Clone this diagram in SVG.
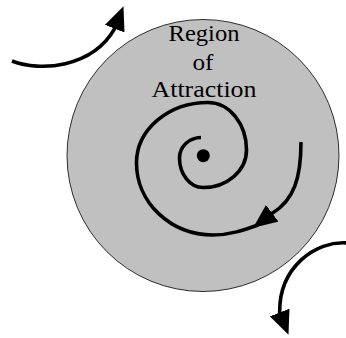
<svg xmlns="http://www.w3.org/2000/svg" width="346" height="338" viewBox="0 0 346 338">
  <defs>
    <style>
      .flow { fill: none; stroke: #000; stroke-width: 3.6; }
      .arrow { marker-end: url(#tri); }
      .label { font-size: 24px; fill: #000; text-anchor: middle; }
    </style>
    <marker id="tri" markerUnits="userSpaceOnUse" viewBox="0 0 24 21" markerWidth="24" markerHeight="21" refX="3" refY="10.5" orient="auto">
      <path d="M0,0 L24,10.5 L0,21 Z" fill="#000"/>
    </marker>
  </defs>
  <g id="region">
    <circle cx="203" cy="155.5" r="136" fill="#c0c0c0" stroke="#000" stroke-width="0.8"/>
    <g font-family="'Liberation Serif', 'Times New Roman', serif">
      <text class="label" x="204" y="41" textLength="71" lengthAdjust="spacingAndGlyphs">Region</text>
      <text class="label" x="203" y="69.5" textLength="21" lengthAdjust="spacingAndGlyphs">of</text>
      <text class="label" x="204" y="96.5" textLength="105" lengthAdjust="spacingAndGlyphs">Attraction</text>
    </g>
  </g>
  <g id="equilibrium">
    <circle cx="203.3" cy="155.7" r="6.5" fill="#000"/>
  </g>
  <g id="connectors">
    <path class="flow" d="M201,137.5 A21.5,20.5 0 0 0 179.5,158 A23.5,29.5 0 0 0 203,187.5 A43.5,37.5 0 0 0 246.5,150 A38.5,47.5 0 0 0 208,102.5 A71.5,60.5 0 0 0 136.5,163 A76.5,72 0 0 0 213,235 C230,235 244,230 258,225"/>
    <path class="flow arrow" d="M301,142 C301,178 294,200 272.3,213.3 l-2.4,1.8"/>
    <path class="flow arrow" d="M12,61 C40,72 92,68 114.7,28.7 l1.1,-2.8"/>
    <path class="flow arrow" d="M348,243 C315,240 279,268 279.7,312.5 l1.1,2.8"/>
  </g>
</svg>
